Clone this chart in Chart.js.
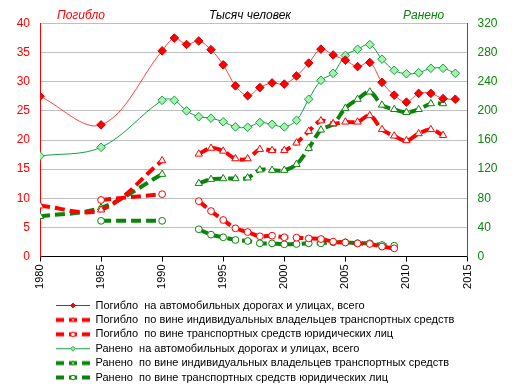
<!DOCTYPE html>
<html><head><meta charset="utf-8">
<script src="https://cdn.jsdelivr.net/npm/chart.js@4/dist/chart.umd.min.js"></script>
<style>html,body{margin:0;padding:0;background:#fff}#wrap{width:512px;height:391px;position:relative}</style>
</head><body><div id="wrap"><canvas id="c"></canvas></div>
<script>
const years = [1980,1985,1990,1991,1992,1993,1994,1995,1996,1997,1998,1999,2000,2001,2002,2003,2004,2005,2006,2007,2008,2009,2010,2011,2012,2013,2014];
// Погибло (left axis, thousand)
const killedTotal = [27.5,22.6,35.3,37.5,36.4,37.0,35.5,32.9,29.3,27.6,29.0,29.8,29.6,31.0,33.2,35.6,34.6,33.7,32.6,33.3,29.9,27.7,26.5,28.0,28.0,27.1,27.0];
const killedIndividual = [8.7,8.0,16.45,null,null,17.6,18.6,18.1,16.8,16.8,18.4,18.2,18.2,19.5,21.5,23.3,22.8,23.1,23.1,24.2,21.8,20.7,19.9,21.1,21.8,20.8,null];
const killedLegal = [null,9.7,10.7,null,null,9.5,7.8,6.27,4.84,4.2,3.47,3.57,3.3,3.23,3.1,3.0,2.55,2.4,2.26,2.15,1.7,1.4,null,null,null,null,null];
// Ранено (right axis, thousand)
const injuredTotal = [138,150,214.5,214.5,200,192,190,185,178,177.5,184,181.5,178,187,216,242,251.6,276,284.6,291,271,255.7,251,252.4,258.5,258.5,251.6];
const injuredIndividual = [55,67,113,null,null,100.5,106,107,107,108,119,118.5,118.5,126.6,148.6,173.8,182,203.5,216,226,208,202,198,202,210,210,null];
const injuredLegal = [null,49,49,null,null,37.4,30,26.4,22.7,21.3,18.1,18,16.8,17.2,18.1,18.1,19.5,19.5,18.1,18.1,15.8,14.8,null,null,null,null,null];

const labels = [
  'Погибло  на автомобильных дорогах и улицах, всего',
  'Погибло  по вине индивидуальных владельцев транспортных средств',
  'Погибло  по вине транспортных средств юридических лиц',
  'Ранено  на автомобильных дорогах и улицах, всего',
  'Ранено  по вине индивидуальных владельцев транспортных средств',
  'Ранено  по вине транспортных средств юридических лиц'
];

const RED='#FF0000', REDLINE='#FF4444', GREEN='#0A850A', GREENLINE='#10A040', GREENFILL='#A8F0B0';
const FONT='"Liberation Sans", Arial, sans-serif';

function pts(arr){ return years.map((x,i)=>({x:x, y:arr[i]})); }

function drawMarker(ctx, type, cx, cy, r, fill, stroke){
  ctx.beginPath();
  if(type==='diamond'){ ctx.moveTo(cx,cy-r);ctx.lineTo(cx+r,cy);ctx.lineTo(cx,cy+r);ctx.lineTo(cx-r,cy);ctx.closePath(); }
  else if(type==='triangle'){ ctx.moveTo(cx,cy-r);ctx.lineTo(cx+r*0.87,cy+r*0.5);ctx.lineTo(cx-r*0.87,cy+r*0.5);ctx.closePath(); }
  else { ctx.arc(cx,cy,r,0,Math.PI*2); }
  ctx.fillStyle=fill; ctx.fill(); ctx.lineWidth=1; ctx.strokeStyle=stroke; ctx.stroke();
}
function sample(color, dashed, marker, mfill, mstroke){
  const c=document.createElement('canvas'); c.width=34; c.height=9;
  const ctx=c.getContext('2d');
  ctx.strokeStyle=color;
  if(dashed){
    ctx.lineWidth=4;
    [[0,8],[13,21],[26,34]].forEach(s=>{ctx.beginPath();ctx.moveTo(s[0],4.5);ctx.lineTo(s[1],4.5);ctx.stroke();});
  } else {
    ctx.lineWidth=1; ctx.beginPath(); ctx.moveTo(0,4.5); ctx.lineTo(34,4.5); ctx.stroke();
  }
  drawMarker(ctx, marker, 17, 4.5, 2.3, mfill, mstroke);
  return c;
}
const samples = [
  sample(RED,false,'diamond',RED,'#C00000'),
  sample(RED,true,'triangle','#fff',RED),
  sample(RED,true,'circle','#fff',RED),
  sample(GREENLINE,false,'diamond',GREENFILL,GREENLINE),
  sample(GREEN,true,'triangle','#fff',GREEN),
  sample(GREEN,true,'circle','#fff',GREEN)
];

function solid(label, arr, axis, color, mfill, mstroke){
  return {label, data:pts(arr), yAxisID:axis, borderColor:color, borderWidth:1, tension:0.35,
    pointStyle:'rectRot', pointRadius:4.3, pointBackgroundColor:mfill, pointBorderColor:mstroke, pointBorderWidth:1, spanGaps:false};
}
function dashed(label, arr, axis, color, style, r){
  return {label, data:pts(arr), yAxisID:axis, borderColor:color, borderWidth:4, borderDash:[10,5], tension:0.35,
    pointStyle:style, pointRadius:r, pointBackgroundColor:'#fff', pointBorderColor:color, pointBorderWidth:1, spanGaps:false};
}

const datasets = [
  solid(labels[0], killedTotal, 'yL', REDLINE, RED, '#D00000'),
  dashed(labels[1], killedIndividual, 'yL', RED, 'triangle', 4.2),
  dashed(labels[2], killedLegal, 'yL', RED, 'circle', 3.4),
  solid(labels[3], injuredTotal, 'yR', GREENLINE, GREENFILL, GREENLINE),
  dashed(labels[4], injuredIndividual, 'yR', GREEN, 'triangle', 4.2),
  dashed(labels[5], injuredLegal, 'yR', GREEN, 'circle', 3.4)
];

const titles = {
  id:'titles',
  afterLayout(chart){ if(chart.legend){ chart.legend.left = 52.6; chart.legend.top += 2; } },
  afterDraw(chart){
    const ctx=chart.ctx; ctx.save();
    ctx.font='italic 12px '+FONT; ctx.textBaseline='middle'; ctx.textAlign='left';
    ctx.fillStyle=RED; ctx.fillText('Погибло',57,15.5);
    ctx.fillStyle='#000'; ctx.fillText('Тысяч человек',209,15.5);
    ctx.fillStyle=GREEN; ctx.fillText('Ранено',403,15.5);
    ctx.restore();
  }
};

new Chart(document.getElementById('c'), {
  type:'line',
  data:{datasets},
  plugins:[titles],
  options:{
    responsive:true, maintainAspectRatio:false, animation:false,
    layout:{padding:{top:23.5,left:0,right:0,bottom:0}},
    plugins:{
      tooltip:{enabled:false},
      legend:{
        position:'bottom', align:'start',
        labels:{
          usePointStyle:true, pointStyleWidth:34, boxHeight:9, padding:3.4,
          font:{family:FONT,size:11}, color:'#000',
          generateLabels(chart){
            return chart.data.datasets.map((d,i)=>({text:d.label, pointStyle:samples[i], datasetIndex:i,
              fillStyle:'rgba(0,0,0,0)', strokeStyle:'rgba(0,0,0,0)', lineWidth:0, hidden:false, fontColor:'#000'}));
          }
        }
      }
    },
    scales:{
      x:{type:'linear', min:1980, max:2015,
        afterFit(s){ s.height = 38.1; },
        ticks:{stepSize:5, minRotation:90, maxRotation:90, color:'#000', font:{family:FONT,size:11}, padding:3,
          callback:v=>String(v)},
        grid:{drawOnChartArea:false, drawTicks:true, tickLength:5, color:'#000'},
        border:{color:'#000', width:1}
      },
      yL:{position:'left', min:0, max:40,
        afterFit(s){ s.width = 40; },
        ticks:{stepSize:5, color:RED, font:{family:FONT,size:12}, padding:10},
        grid:{color:'#BFBFBF', drawTicks:false},
        border:{color:RED, width:1}
      },
      yR:{position:'right', min:0, max:320,
        afterFit(s){ s.width = 44.5; },
        ticks:{stepSize:40, color:GREEN, font:{family:FONT,size:12}, padding:10},
        grid:{drawOnChartArea:false, drawTicks:false},
        border:{color:GREEN, width:1}
      }
    }
  }
});
</script>
</body></html>
